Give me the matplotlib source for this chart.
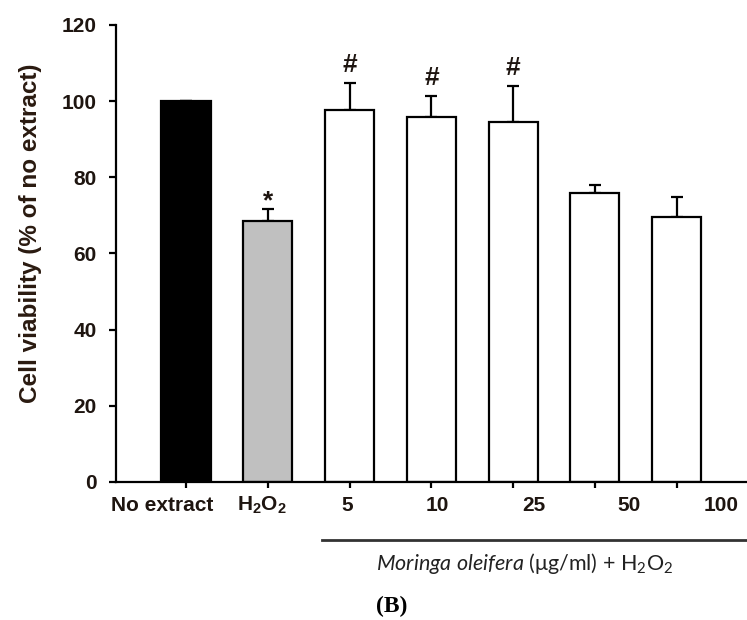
import matplotlib
matplotlib.use('Agg')
import matplotlib.pyplot as plt
import numpy as np

# data
groups = ['No extract', r'$\mathbf{H_2O_2}$', '5', '10', '25', '50', '100']
viability = [100.0, 68.5, 97.6, 95.9, 94.6, 76.0, 69.6]
sd_upper = [0.0, 3.1, 7.1, 5.5, 9.3, 1.9, 5.3]
marks = ['', '*', '#', '#', '#', '', '']
bar_colors = ['black', '#c0c0c0', 'white', 'white', 'white', 'white', 'white']
yticks = [0, 20, 40, 60, 80, 100, 120]

# the original tick labels are nudged sideways, in pixels
label_shift = [-24, -6, -2, 6, 21, 34, 44]
# gap between error cap and the baseline of each significance mark
mark_gap = {'*': 0.2, '#': 2.9}

plt.rcParams['mathtext.fontset'] = 'custom'
plt.rcParams['mathtext.bf'] = 'Liberation Sans:bold'
plt.rcParams['mathtext.rm'] = 'Lato'
plt.rcParams['mathtext.it'] = 'Lato:italic'
plt.rcParams['font.family'] = 'Liberation Sans'

text_col = '#1e1510'

fig = plt.figure(figsize=(7.47, 6.2), dpi=100)
ax = fig.add_axes([0.1553, 0.2226, 0.8447, 0.7371])

x = np.arange(len(groups))
ax.bar(x, viability, width=0.6, color=bar_colors, edgecolor='black',
       linewidth=1.6, zorder=2)
ax.errorbar(x, viability, yerr=[np.zeros(len(x)), sd_upper], fmt='none',
            ecolor='black', elinewidth=1.6, capsize=4, capthick=1.6, zorder=1)

for xi, v, s, m in zip(x, viability, sd_upper, marks):
    if m:
        ax.text(xi, v + s + mark_gap[m], m, ha='center', va='baseline',
                fontsize=19, fontweight='bold', color=text_col)

ax.set_xlim(-0.856, 6.86)
ax.set_ylim(0, 120)
ax.set_yticks(yticks)
ax.set_yticklabels([str(t) for t in yticks], fontsize=15, fontweight='bold',
                   color=text_col)
ax.set_xticks(x)
ax.set_xticklabels([])
ax.tick_params(axis='y', direction='out', length=5, width=1.6, pad=9)
ax.tick_params(axis='x', direction='out', length=4, width=1.6)

for side in ['top', 'right']:
    ax.spines[side].set_visible(False)
for side in ['left', 'bottom']:
    ax.spines[side].set_linewidth(1.6)

for xi, lab, dx in zip(x, groups, label_shift):
    ax.annotate(lab, xy=(xi, 0), xycoords=('data', 'axes fraction'),
                xytext=(dx * 0.72, -17), textcoords='offset points',
                ha='center', va='center', fontsize=15, fontweight='bold',
                color=text_col)

ax.set_ylabel('Cell viability (% of no extract)', fontsize=17.5,
              fontweight='bold', color='#2a1a10')
ax.yaxis.set_label_coords(-0.118, 0.545)

# bracket line under the extract doses
fig.add_artist(plt.Line2D([322 / 747, 1.0], [1 - 540 / 620, 1 - 540 / 620],
                          color='#333333', linewidth=2))
fig.text(525 / 747, 1 - 563 / 620,
         r'$\mathit{Moringa\ oleifera}$ ($\mathrm{\mu}$g/ml) + H$_2$O$_2$',
         ha='center', va='center', fontsize=15.5, family='Lato', color='#222222')
fig.text(392 / 747, 1 - 606 / 620, '(B)', ha='center', va='center',
         fontsize=17, fontweight='bold', family='Liberation Serif', color='black')

fig.savefig('out.png', dpi=100)
